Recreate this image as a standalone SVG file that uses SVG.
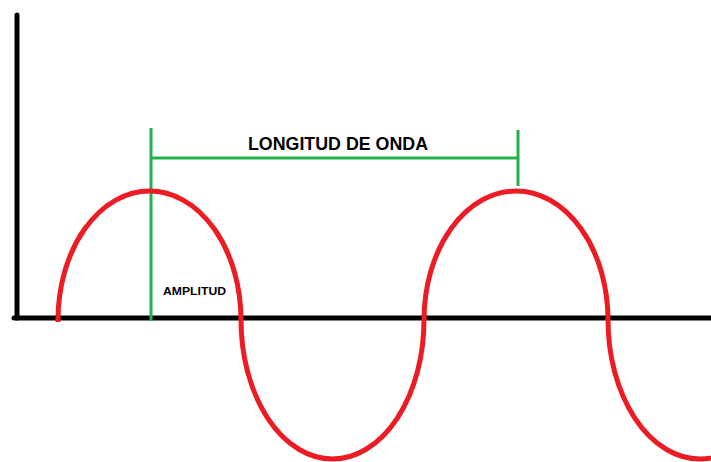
<svg xmlns="http://www.w3.org/2000/svg" width="711" height="462" viewBox="0 0 711 462">
<style>
.axis{stroke:#000;stroke-width:5;fill:none;stroke-linecap:round}
.green{stroke:#22B14C;stroke-width:3;fill:none}
.wave{stroke:#ED1C24;stroke-width:5;fill:none}
.lbl{font-family:"Liberation Sans",Arial,sans-serif;font-weight:bold;fill:#000}
</style>
<rect width="711" height="462" fill="#fff"/>
<g id="axes">
<line class="axis" x1="17" y1="15" x2="17" y2="318"/>
<line class="axis" x1="14" y1="318" x2="713" y2="318"/>
</g>
<g id="connectors">
<line class="green" x1="151" y1="128" x2="151" y2="321"/>
<line class="green" x1="518" y1="130" x2="518" y2="186"/>
<line class="green" x1="151" y1="158" x2="518" y2="158"/>
</g>
<g id="wave">
<path class="wave" d="M58 322 L58 320 A91.5 129 0 0 1 241 320 A91.5 139 0 0 0 424 320 A92 129 0 0 1 608 320 A92 139 0 0 0 792 320"/>
</g>
<g id="label-longitud">
<text class="lbl" x="338" y="150" font-size="18" text-anchor="middle" textLength="180" lengthAdjust="spacingAndGlyphs">LONGITUD DE ONDA</text>
</g>
<g id="label-amplitud">
<text class="lbl" x="163" y="295" font-size="10" textLength="63" lengthAdjust="spacingAndGlyphs">AMPLITUD</text>
</g>
</svg>
